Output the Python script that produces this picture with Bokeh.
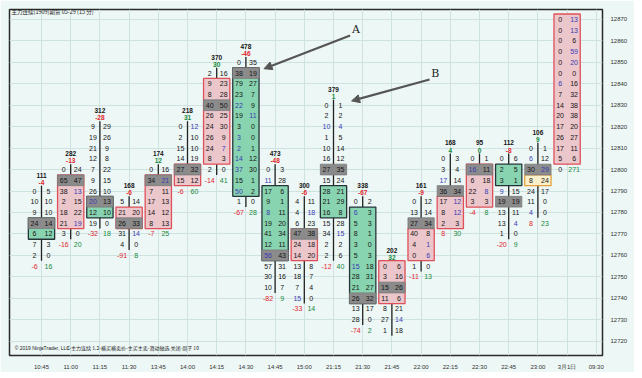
from bokeh.plotting import figure
from bokeh.models import ColumnDataSource, FixedTicker, Arrow, NormalHead, Label, Range1d
from bokeh.core.properties import value
from bokeh.embed import file_html
from bokeh.resources import INLINE

# ---------------- data ----------------
times = ["10:45", "11:00", "11:15", "11:30", "13:45", "14:00", "14:15", "14:30", "14:45", "15:00",
         "21:15", "21:30", "21:45", "22:00", "22:15", "22:30", "22:45", "23:00", "3月1日", "09:30"]
bar_volume = [111, 282, 312, 168, 174, 218, 370, 478, 473, 300, 379, 338, 202, 161, 168, 95, 112, 106, None]
bar_delta = [-4, -13, -28, -6, 12, 31, 30, -46, -48, -6, 1, -67, 32, -9, 4, 0, -8, 9, None]
row_top = [12790, 12800, 12820, 12785, 12800, 12820, 12845, 12850, 12800, 12785,
           12830, 12785, 12755, 12785, 12805, 12805, 12805, 12810, 12870]
bid = [
    [0, 10, 9, 24, 6, 7, 2],
    [0, 65, 38, 2, 18, 21, 3],
    [9, 19, 21, 12, 7, 9, 26, 20, 12, 19],
    [5, 21, 26, 31, 4],
    [0, 34, 7, 17, 14, 8],
    [0, 2, 15, 14, 27, 15],
    [2, 9, 8, 40, 26, 24, 26, 24, 8, 2],
    [0, 38, 79, 23, 22, 19, 3, 3, 2, 14, 37, 15, 50, 1],
    [0, 11, 17, 9, 8, 19, 41, 12, 56, 57, 30, 10],
    [4, 4, 6, 47, 24, 14, 13, 18, 7, 15],
    [0, 2, 10, 1, 10, 16, 27, 15, 28, 21, 16, 15, 34, 2, 2],
    [0, 6, 5, 8, 3, 5, 15, 28, 21, 26, 13, 28],
    [0, 3, 15, 11, 8, 27, 1],
    [0, 13, 27, 40, 4, 0, 1],
    [0, 3, 17, 36, 17, 8, 2],
    [0, 16, 6, 22, 3],
    [0, 2, 3, 9, 19, 13, 13, 1],
    [0, 6, 30, 8, 24, 11, 4],
    [0, 0, 0, 0, 0, 0, 6, 7, 14, 20, 17, 26, 17, 5],
]
ask = [
    [5, 10, 10, 14, 12, 3, 0],
    [24, 47, 13, 15, 22, 19, 0],
    [29, 26, 9, 8, 22, 15, 10, 13, 10, 0],
    [14, 20, 33, 14, 0],
    [16, 21, 11, 13, 12, 13],
    [12, 10, 10, 19, 32, 12],
    [16, 23, 28, 50, 25, 30, 9, 7, 3, 0],
    [35, 19, 27, 7, 9, 11, 0, 0, 1, 12, 30, 1, 2, 0],
    [3, 28, 6, 1, 11, 20, 34, 11, 43, 31, 16, 7],
    [11, 18, 23, 38, 18, 20, 8, 7, 4, 0],
    [1, 2, 4, 5, 14, 12, 35, 24, 21, 29, 8, 28, 15, 2, 6],
    [2, 3, 3, 1, 0, 3, 18, 31, 27, 32, 17, 0],
    [6, 16, 26, 6, 21, 14, 18],
    [12, 14, 34, 8, 1, 6, 0],
    [3, 4, 14, 34, 12, 12, 3],
    [1, 11, 18, 8, 3],
    [6, 5, 1, 15, 19, 11, 4, 0],
    [1, 12, 29, 24, 17, 0, 0],
    [13, 13, 6, 59, 20, 0, 16, 32, 38, 38, 20, 27, 11, 6],
]
foot_left = [-6, -16, -32, -91, -7, -6, -14, -67, -82, -33, -12, -74, None, -11, 8, -4, -20, 8, 0]
foot_right = [16, 20, 18, 8, 25, 60, 41, 28, 9, 14, 40, 2, None, 13, 30, 8, 9, 23, 271]
box_high = [12775, 12795, 12785, 12780, 12795, 12800, 12840, 12845, 12790, 12770,
            12790, 12780, 12755, 12770, 12785, 12800, 12800, 12795, 12870]
box_low = [12770, 12775, 12780, 12775, 12775, 12795, 12805, 12790, 12760, 12760,
           12780, 12740, 12740, 12760, 12775, 12785, 12795, 12795, 12805]
box_kind = ["up", "down", "up", "down", "down", "down", "down", "up", "up", "down",
            "up", "up", "down", "down", "down", "down", "up", "flat", "down"]
gray_price = [12775, 12795, 12785, 12775, 12795, 12800, 12830, 12845, 12760, 12770,
              12800, 12740, 12745, 12775, 12790, 12800, 12785, 12800, None]
# highlighted (imbalance) cells: (bar, price, side)
highlight = [(1, 12790, "R"), (1, 12775, "R"), (2, 12785, "L"), (3, 12770, "R"), (4, 12795, "R"),
             (5, 12820, "R"), (6, 12810, "R"),
             (7, 12830, "L"), (7, 12825, "R"), (7, 12815, "L"), (7, 12810, "L"), (7, 12805, "L"),
             (7, 12800, "L"), (7, 12790, "L"),
             (8, 12795, "L"), (8, 12780, "L"), (8, 12760, "L"),
             (9, 12780, "R"), (9, 12740, "L"),
             (10, 12820, "L"), (10, 12820, "R"), (10, 12770, "R"),
             (11, 12780, "L"), (11, 12755, "L"), (12, 12730, "R"),
             (13, 12765, "R"), (13, 12760, "R"),
             (14, 12795, "L"), (14, 12785, "R"), (14, 12780, "R"),
             (15, 12800, "L"), (15, 12790, "R"), (16, 12790, "L"), (16, 12775, "R"),
             (17, 12805, "L"), (17, 12800, "R"), (17, 12780, "L"),
             (18, 12870, "R"), (18, 12865, "R"), (18, 12855, "R"), (18, 12850, "R"), (18, 12840, "L")]
price_ticks = list(range(12720, 12871, 10))
# annotations: bar index / price they point to
arrow_a = (7, 12845)
arrow_b = (10, 12830)

# ---------------- style ----------------
TICK = 5.0
HALF = 0.45
COL = 0.24
BG = "#edf7f5"
C_TXT = "#151515"
C_HI = "#3a3cb4"
C_RED = "#e2262c"
C_GRN = "#16893c"
FONT = "Liberation Sans"

hl = set(highlight)

cell_x, cell_y, cell_t, cell_c = [], [], [], []
wick_x0, wick_y0, wick_y1 = [], [], []
for i in range(len(bid)):
    n = len(bid[i])
    for k in range(n):
        pr = row_top[i] - TICK * k
        for side, vals, off in (("L", bid, -COL), ("R", ask, COL)):
            cell_x.append(i + off)
            cell_y.append(pr)
            cell_t.append(str(vals[i][k]))
            cell_c.append(C_HI if (i, pr, side) in hl else C_TXT)
    wick_x0.append(i)
    wick_y0.append(row_top[i] + TICK / 2)
    wick_y1.append(row_top[i] - TICK * (n - 1) - TICK / 2)
    if foot_left[i] is not None:
        fy = row_top[i] - TICK * n
        cell_x += [i - COL, i + COL]
        cell_y += [fy, fy]
        cell_t += [str(foot_left[i]), str(foot_right[i])]
        cell_c += [C_RED if foot_left[i] != 0 else C_TXT, C_GRN]

hdr_x, hdr_y, hdr_t, hdr_c = [], [], [], []
for i in range(len(bid)):
    if bar_volume[i] is None:
        continue
    hdr_x += [i, i]
    hdr_y += [row_top[i] + 7.4, row_top[i] + 4.1]
    hdr_t += [str(bar_volume[i]), str(bar_delta[i])]
    hdr_c += [C_TXT, C_RED if bar_delta[i] < 0 else C_GRN]

fills = {"up": "#89d4b0", "down": "#ebc6cb", "flat": "#fbf0cc"}
lines = {"up": "#26343a", "down": "#e0505a", "flat": "#e6a03c"}
box = ColumnDataSource(dict(
    left=[i - HALF for i in range(len(bid))], right=[i + HALF for i in range(len(bid))],
    top=[h + TICK / 2 for h in box_high], bottom=[l - TICK / 2 for l in box_low],
    fill=[fills[k] for k in box_kind], line=[lines[k] for k in box_kind]))
gidx = [i for i in range(len(bid)) if gray_price[i] is not None]
gray = ColumnDataSource(dict(
    left=[i - HALF for i in gidx], right=[i + HALF for i in gidx],
    top=[gray_price[i] + TICK / 2 for i in gidx], bottom=[gray_price[i] - TICK / 2 for i in gidx]))

# ---------------- figure ----------------
# frame: x 10..603, y 10..360 in page pixels; bar 0 at px 42, 29.2 px per bar; 2.17 px per point
x_lo = (10 - 42) / 29.2
x_hi = (603 - 42) / 29.2
y_hi = 12870 + (20 - 10) / 2.17
y_lo = 12870 - (360 - 20) / 2.17

p = figure(width=634, height=372, output_backend="svg", toolbar_location=None,
           x_range=Range1d(x_lo, x_hi), y_range=Range1d(y_lo, y_hi),
           y_axis_location="right", min_border_left=9, min_border_right=32,
           min_border_top=9, min_border_bottom=13)
p.background_fill_color = BG
p.border_fill_color = BG
p.outline_line_color = "#2a2a2a"
p.outline_line_width = 1.5

p.xaxis.ticker = FixedTicker(ticks=list(range(len(times))))
p.xaxis.major_label_overrides = {i: t for i, t in enumerate(times)}
p.yaxis.ticker = FixedTicker(ticks=price_ticks)
for ax in (p.xaxis, p.yaxis):
    ax.axis_line_color = None
    ax.major_tick_line_color = None
    ax.minor_tick_line_color = None
    ax.major_label_text_font_size = "6px"
    ax.major_label_text_color = "#333333"
    ax.major_label_text_font = FONT
    ax.major_label_standoff = 2
p.xgrid.grid_line_color = "#cfe2e2"
p.ygrid.grid_line_color = "#cfe2e2"
p.xgrid.ticker = FixedTicker(ticks=list(range(len(times))))
p.ygrid.ticker = FixedTicker(ticks=price_ticks)

p.segment(x0=wick_x0, y0=wick_y0, x1=wick_x0, y1=wick_y1, line_color="#222222", line_width=1.3)
p.quad(left="left", right="right", top="top", bottom="bottom", fill_color="fill",
       line_color="line", line_width=1.3, source=box)
p.quad(left="left", right="right", top="top", bottom="bottom", fill_color="#8b8b8b",
       line_color="#7a7a7a", line_width=0.8, source=gray)

p.text(x=cell_x, y=cell_y, text=cell_t, text_color=cell_c, text_align="center",
       text_baseline="middle", text_font_size="7px", text_font=value(FONT))
p.text(x=hdr_x, y=hdr_y, text=hdr_t, text_color=hdr_c, text_align="center",
       text_baseline="middle", text_font_size="6.5px", text_font_style="bold",
       text_font=value(FONT))

# arrows A and B
for (bi, bp), lab, dx, dy in ((arrow_a, "A", 2.95, 15.5), (arrow_b, "B", 2.67, 10.0)):
    tip_x, tip_y = bi + 0.62, bp + 2.0
    p.add_layout(Arrow(end=NormalHead(size=8, fill_color="#555555", line_color="#555555"),
                       x_start=tip_x + dx, y_start=tip_y + dy, x_end=tip_x, y_end=tip_y,
                       line_color="#555555", line_width=2.2))
    p.add_layout(Label(x=tip_x + dx + 0.2, y=tip_y + dy + 3.0, text=lab, text_font="DejaVu Serif",
                       text_font_size="11px", text_color="#222222", text_align="center",
                       text_baseline="middle"))

p.add_layout(Label(x=x_lo + 0.07, y=y_hi + 0.8, text="主力连续(1909)期货 05-29 (15 分)",
                   text_font="Noto Sans CJK SC", text_font_size="5.5px", text_color="#222222",
                   text_baseline="top"))
p.add_layout(Label(x=-0.92, y=12717, text="© 2019 NinjaTrader, LLC", text_font=FONT,
                   text_font_size="5px", text_color="#222222", text_baseline="middle"))
p.add_layout(Label(x=0.86, y=12717, text="1-主力连续 1.2-横买横卖价-主买主卖-滑动轴选 关闭-周子 10",
                   text_font="Noto Sans CJK SC", text_font_size="5px", text_color="#222222",
                   text_baseline="middle"))

open("out.html", "w").write(file_html(p, INLINE))
